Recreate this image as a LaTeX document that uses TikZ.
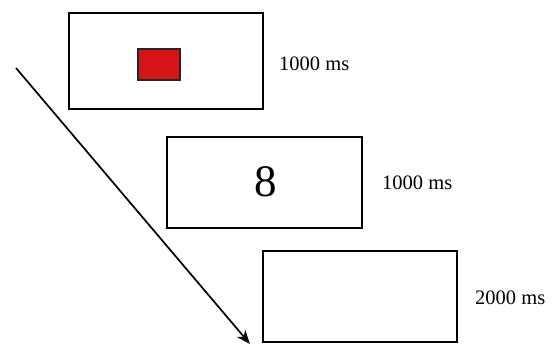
\documentclass[tikz,border=0pt]{standalone}
\usepackage{fontspec}
\setmainfont{Liberation Serif}
\usetikzlibrary{arrows.meta}
\definecolor{stimred}{HTML}{D7141A}
\begin{document}
\begin{tikzpicture}[x=1pt,y=-1pt,
  screen/.style={draw=black,line width=1.8pt,fill=white},
  lbl/.style={anchor=west,font=\fontsize{20.5}{24}\selectfont,inner sep=0pt}]
\useasboundingbox (0,0) rectangle (558,345);
\draw[screen] (69,13) rectangle (263,109);
\node[draw=black!85,line width=1.3pt,fill=stimred,minimum width=42pt,minimum height=31pt,inner sep=0pt] (stim) at (159,64.5) {};
\node[lbl] (t1) at (279,64) {1000 ms};
\draw[screen] (167,137) rectangle (362,228);
\node[font=\fontsize{45}{50}\selectfont,inner sep=0pt] (digit) at (266,182) {8};
\node[lbl] (t2) at (382,183) {1000 ms};
\draw[screen] (263,251) rectangle (457,342);
\node[lbl] (t3) at (475,298) {2000 ms};
\coordinate (start) at (16,68);
\coordinate (end) at (250,344);
\draw[line width=1.7pt,-{Stealth[length=14pt,width=11pt]}] (start) -- (end);
\end{tikzpicture}
\end{document}
